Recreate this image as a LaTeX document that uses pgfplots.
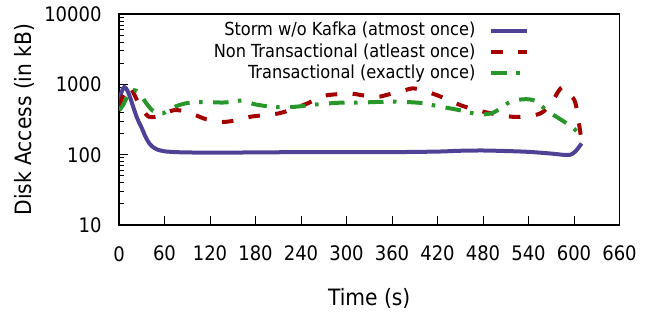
\documentclass[border=0pt]{standalone}
\usepackage{fontspec}
\setmainfont{DejaVu Sans Condensed}
\usepackage{pgfplots}
\pgfplotsset{compat=1.18}
\definecolor{cblue}{RGB}{78,66,150}
\definecolor{cred}{RGB}{165,0,0}
\definecolor{cgreen}{RGB}{40,150,40}
\begin{document}
\fontsize{20bp}{24bp}\selectfont
\begin{tikzpicture}
\begin{axis}[
  scale only axis, width=500.5bp, height=210.8bp,
  xmin=0, xmax=660, ymin=10, ymax=10000, ymode=log,
  xtick={0,60,120,180,240,300,360,420,480,540,600,660},
  xticklabels={{},60,120,180,240,300,360,420,480,540,600,660},
  ytick={10,100,1000,10000}, yticklabels={10,100,1000,10000},
  minor ytick={20,30,40,50,60,70,80,90,200,300,400,500,600,700,800,900,2000,3000,4000,5000,6000,7000,8000,9000},
  xtick pos=left, ytick pos=left, tick align=inside,
  major tick length=9bp, minor tick length=5bp,
  axis line style={line width=1.5bp},
  every tick/.style={black, line width=1bp},
  /pgf/number format/assume math mode=true,
  ticklabel style={font=\fontsize{20bp}{24bp}\selectfont},
  xticklabel style={yshift=-14bp},
  yticklabel style={xshift=-10.6bp},
  label style={font=\fontsize{22.5bp}{27bp}\selectfont},
  xlabel={Time (s)}, ylabel={Disk Access (in kB)},
  xlabel style={at={(axis description cs:0.5,0)}, anchor=center, yshift=-73bp},
  ylabel style={at={(axis description cs:-0.189,0.5)}, anchor=center},
  legend plot pos=right,
  legend cell align=right,
  legend image code/.code={\draw[#1] (0bp,0bp) -- (36bp,0bp);},
  legend style={at={(axis description cs:0.82,0.962)}, anchor=north east,
    draw=none, fill=none, inner sep=0pt, outer sep=0pt,
    row sep=4.3bp, column sep=14bp,
    font=\fontsize{18bp}{21bp}\selectfont,
    nodes={inner sep=0pt, text height=13.5bp, text depth=3.5bp},
    cells={inner sep=0pt, text height=13.5bp, text depth=3.5bp}},
  clip mode=individual,
]
\addplot[cblue, line width=4bp, smooth] coordinates {
(0,480) (3,760) (7,920) (11,820) (15,640) (19,470) (24,330) (30,240) (35,180) (40,145) (45,128) (50,119) (60,112) (75,109) (90,108) (120,107) (180,108) (240,109) (300,109) (360,109) (420,111) (450,114) (480,115) (510,113) (540,110) (570,104) (585,100) (595,100) (602,112) (610,145)
};
\addlegendentry{Storm w/o Kafka (atmost once)}
\addplot[cred, line width=4bp, smooth, dash pattern=on 11.5bp off 15.5bp] coordinates {
(0,500) (6,720) (12,940) (18,800) (25,560) (32,420) (40,345) (50,350) (60,385) (72,430) (85,420) (100,370) (115,320) (135,292) (155,310) (175,350) (199,372) (215,398) (234,470) (248,535) (269,683) (283,720) (305,745) (320,705) (340,665) (355,720) (377,830) (391,875) (420,700) (452,500) (485,400) (523,345) (555,385) (570,550) (584,910) (595,700) (602,540) (609,185)
};
\addlegendentry{Non Transactional (atleast once)}
\addplot[cgreen, line width=4bp, smooth, dash pattern=on 15.5bp off 9.5bp on 3.5bp off 10.5bp] coordinates {
(0,430) (5,500) (12,700) (20,830) (27,750) (35,560) (45,420) (58,390) (73,480) (90,545) (110,560) (140,555) (162,590) (180,520) (205,478) (230,480) (260,520) (290,550) (320,555) (360,570) (395,550) (415,505) (452,425) (475,375) (494,400) (515,560) (532,615) (548,590) (565,420) (584,310) (597,250) (609,190)
};
\addlegendentry{Transactional (exactly once)}
\end{axis}
\node[anchor=north, inner sep=0pt, font=\fontsize{20bp}{24bp}\selectfont] at ([yshift=-21bp]current axis.south west) {0};
\path (current axis.south west) ++(-119bp,-88.7bp) coordinate (bbA);
\path (current axis.north east) ++(36.5bp,13.5bp) coordinate (bbB);
\path (bbA) rectangle (bbB);
\end{tikzpicture}
\end{document}
